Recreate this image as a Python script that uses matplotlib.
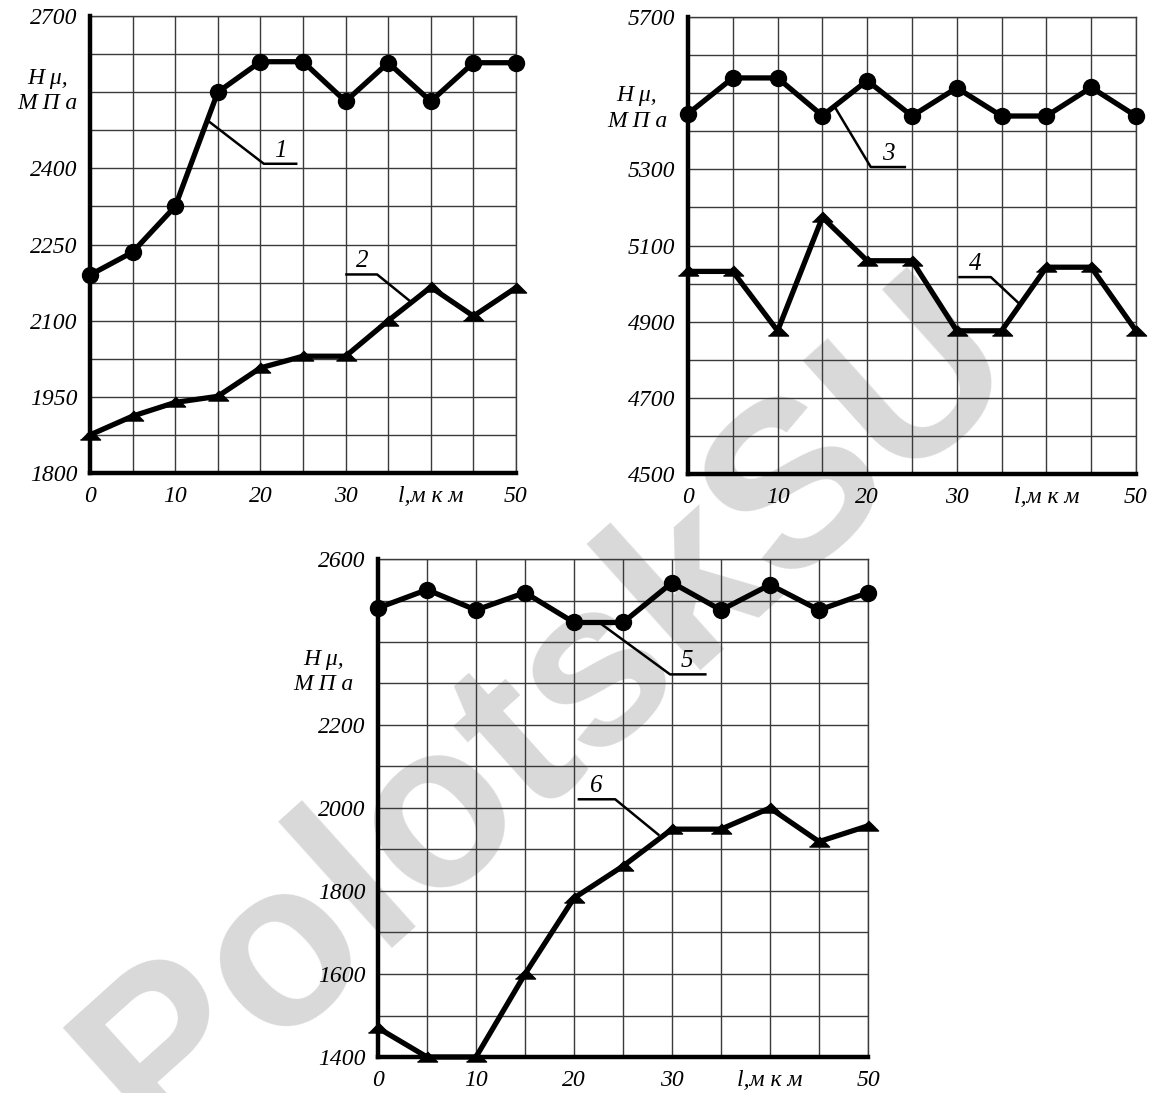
import numpy as np
import matplotlib
matplotlib.use('Agg')
import matplotlib.pyplot as plt

plt.rcParams['font.family'] = ['Liberation Serif', 'DejaVu Serif']
plt.rcParams['font.style'] = 'italic'
plt.rcParams['font.size'] = 17

# depth, um
x_um = [0, 5, 10, 15, 20, 25, 30, 35, 40, 45, 50]

# microhardness, MPa (curves 1..6)
h1 = [2190, 2235, 2325, 2550, 2610, 2610, 2532, 2608, 2532, 2608, 2608]
h2 = [1875, 1912, 1939, 1951, 2007, 2030, 2030, 2100, 2166, 2109, 2165]
h3 = [5446, 5540, 5540, 5441, 5533, 5440, 5514, 5440, 5440, 5515, 5440]
h4 = [5032, 5032, 4876, 5174, 5060, 5060, 4876, 4876, 5043, 5043, 4876]
h5 = [2482, 2526, 2477, 2519, 2447, 2447, 2543, 2477, 2538, 2477, 2519]
h6 = [1470, 1400, 1400, 1600, 1783, 1860, 1949, 1949, 2000, 1919, 1957]

# y ranges / grid steps / labelled ticks
ylim1, ystep1, ylab1 = (1800, 2700), 75, [1800, 1950, 2100, 2250, 2400, 2700]
ylim2, ystep2, ylab2 = (4500, 5700), 100, [4500, 4700, 4900, 5100, 5300, 5700]
ylim3, ystep3, ylab3 = (1400, 2600), 100, [1400, 1600, 1800, 2000, 2200, 2600]

# leader lines for curve numbers (data coords) and number positions
lead1, num1 = [(13.9, 2493), (20.4, 2409), (24.2, 2409)], ('1', 22.3, 2413)
lead2, num2 = [(30.1, 2191), (33.7, 2191), (37.6, 2138)], ('2', 31.9, 2195)
lead3, num3 = [(16.4, 5463), (20.4, 5306), (24.2, 5306)], ('3', 22.3, 5312)
lead4, num4 = [(30.3, 5017), (33.8, 5017), (36.8, 4951)], ('4', 32.0, 5022)
lead5, num5 = [(22.8, 2443), (29.8, 2322), (33.4, 2322)], ('5', 31.5, 2328)
lead6, num6 = [(20.5, 2021), (24.2, 2021), (28.6, 1936)], ('6', 22.3, 2027)

tri = [(-1, -0.45), (1, -0.45), (0, 0.55)]


def panel(ax, ylim, ystep, ylab, circ, trian, leads, ylabel_pos):
    ax.set_facecolor('none')
    ax.set_xlim(0, 50)
    ax.set_ylim(*ylim)
    ax.set_xticks(np.arange(0, 51, 5))
    ax.set_xticklabels(['0', '', '10', '', '20', '', '30', '', 'l,м к м', '', '50'])
    yt = np.arange(ylim[0], ylim[1] + 1, ystep)
    ax.set_yticks(yt)
    ax.set_yticklabels([str(v) if v in ylab else '' for v in yt])
    ax.tick_params(length=0, pad=9, labelsize=17)
    ax.grid(True, color='#3a3a3a', lw=1.0, zorder=1)
    for s in ['top', 'right']:
        ax.spines[s].set_linewidth(1.0)
        ax.spines[s].set_color('#3a3a3a')
    for s in ['left', 'bottom']:
        ax.spines[s].set_linewidth(3.2)
        ax.spines[s].set_zorder(4)

    ax.plot(x_um, circ, color='black', lw=3.8, marker='o', ms=11.5,
            clip_on=False, zorder=5)
    ax.plot(x_um, trian, color='black', lw=3.8, marker=tri, ms=14.5,
            clip_on=False, zorder=5)

    for pts, (txt, tx, ty) in leads:
        xs, ys = zip(*pts)
        ax.plot(xs, ys, color='black', lw=1.8, zorder=5, clip_on=False)
        ax.text(tx, ty, txt, ha='center', va='bottom', fontsize=18, zorder=6)

    ax.text(ylabel_pos[0], ylabel_pos[1], 'H μ,\nМ П а', transform=ax.transAxes,
            ha='center', va='center', fontsize=17, linespacing=1.3)


fig = plt.figure(figsize=(11.6, 10.93), dpi=100)

# site watermark, behind the grids
fig.text(548 / 1160, 1 - 712 / 1093, 'PolotskSU', family='Liberation Sans',
         style='normal', weight='bold', fontsize=168, color='#d9d9d9',
         rotation=42, ha='center', va='center', zorder=-5)

ax1 = fig.add_axes([90 / 1160, 1 - 473 / 1093, 426 / 1160, 457 / 1093])
ax2 = fig.add_axes([688 / 1160, 1 - 474 / 1093, 448 / 1160, 457 / 1093])
ax3 = fig.add_axes([378 / 1160, 1 - 1057 / 1093, 490 / 1160, 498 / 1093])

panel(ax1, ylim1, ystep1, ylab1, h1, h2, [(lead1, num1), (lead2, num2)], (-0.10, 0.836))
panel(ax2, ylim2, ystep2, ylab2, h3, h4, [(lead3, num3), (lead4, num4)], (-0.114, 0.80))
panel(ax3, ylim3, ystep3, ylab3, h5, h6, [(lead5, num5), (lead6, num6)], (-0.112, 0.773))

plt.savefig('out.png', dpi=100)
